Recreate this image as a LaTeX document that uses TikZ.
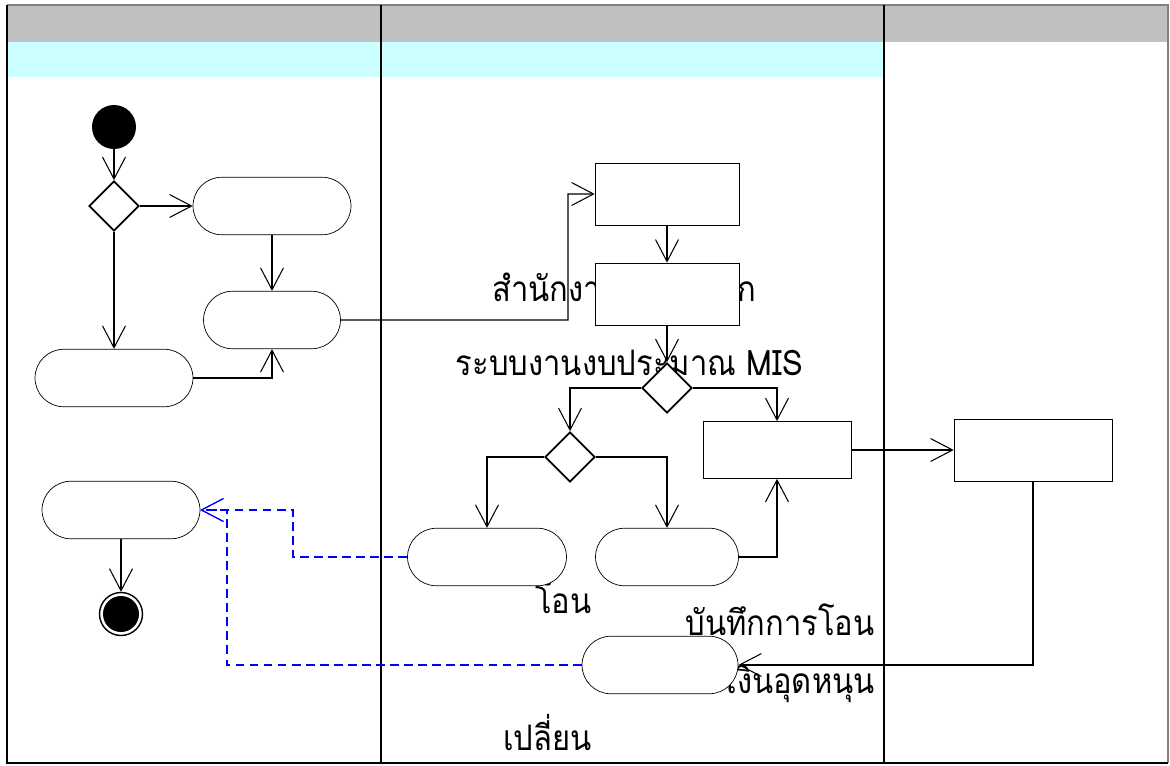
\documentclass[tikz,border=0pt]{standalone}
\usepackage{fontspec}
\newfontfamily\thaifont[Script=Thai, FakeStretch=0.88]{Loma}
\usepackage{xcolor}
\usepackage{tikz}
\usetikzlibrary{shapes.geometric,shapes.misc,arrows.meta}

\definecolor{laneGray}{HTML}{C0C0C0}
\definecolor{laneCyan}{HTML}{CCFFFF}

\begin{document}
\begin{tikzpicture}[x=0.02cm, y=-0.02cm,
  act/.style={rounded rectangle, draw, fill=white, minimum height=1.15cm, inner sep=0pt},
  box/.style={rectangle, draw, fill=white, minimum height=1.24cm, inner sep=0pt},
  choice/.style={diamond, draw, fill=white, line width=1pt, minimum width=1cm, minimum height=1cm, inner sep=0pt},
  startdot/.style={circle, fill=black, minimum size=0.88cm, inner sep=0pt},
  enddot/.style={circle, draw, line width=0.8pt, minimum size=0.86cm, inner sep=0pt,
    path picture={\fill[black] (path picture bounding box.center) circle (0.36cm);}},
  txt/.style={font=\thaifont\fontsize{20}{33}\selectfont, inner sep=0pt},
  arrow/.style={-{Straight Barb[length=0.44cm,width=0.46cm]}, line width=0.6pt},
  flowback/.style={arrow, blue, dash pattern=on 5pt off 3pt}
]
\useasboundingbox (0,0) rectangle (1170,765);

% Swimlanes
\fill[laneGray] (7,5) rectangle (1168,42);
\fill[laneCyan] (7,42) rectangle (884,77);
\draw[gray, line width=0.6pt] (7,5) -- (1168,5) -- (1168,763);
\draw[line width=1.1pt] (7,5) -- (7,763) -- (1168,763);
\draw[line width=1.1pt] (381,5) -- (381,763);
\draw[line width=1.1pt] (884,5) -- (884,763);

% Texts
\node[txt, anchor=base east] (tOffice) at (757,301) {สำนักงานปลัดสำนัก};
\node[txt, anchor=base east] (tSystem) at (803,375) {ระบบงานงบประมาณ MIS};
\node[txt, anchor=base east] (tTransfer) at (592,613) {โอน};
\node[txt, anchor=base east] (tRecord) at (875,635) {บันทึกการโอน};
\node[txt, anchor=base east] (tSubsidy) at (875,693) {เงินอุดหนุน};
\node[txt, anchor=base east] (tChange) at (592,750) {เปลี่ยน};

% Left lane
\node[startdot] (start) at (114,127) {};
\node[choice] (dec1) at (114,206) {};
\node[act, minimum width=3.16cm] (act1) at (272,206) {};
\node[act, minimum width=2.74cm] (act2) at (272,320) {};
\node[act, minimum width=3.16cm] (act3) at (114,378) {};
\node[act, minimum width=3.16cm] (act4) at (121,510) {};
\node[enddot] (stop) at (121,614) {};

% Middle lane
\node[box, minimum width=2.88cm] (box1) at (667,194) {};
\node[box, minimum width=2.88cm] (box2) at (667,294) {};
\node[choice] (dec2) at (667,388) {};
\node[choice] (dec3) at (570,457) {};
\node[box, minimum width=2.96cm, minimum height=1.14cm] (box3) at (777,450) {};
\node[act, minimum width=3.18cm] (act5) at (487,557) {};
\node[act, minimum width=2.86cm] (act6) at (667,557) {};
\node[act, minimum width=3.12cm] (act7) at (660,665) {};

% Right lane
\node[box, minimum width=3.16cm] (box4) at (1033,450) {};

% Bends
\coordinate (j1) at (568,320);
\coordinate (j2) at (293,557);
\coordinate (j3) at (227,665);

% Connections
\draw[arrow] (start) -- (dec1);
\draw[arrow] (dec1) -- (act1);
\draw[arrow] (dec1) -- (act3);
\draw[arrow] (act1) -- (act2);
\draw[arrow] (act3) -| (act2);
\draw[arrow] (act2) -- (j1) |- (box1);
\draw[arrow] (box1) -- (box2);
\draw[arrow] (box2) -- (dec2);
\draw[arrow] (dec2) -| (dec3);
\draw[arrow] (dec2) -| (box3);
\draw[arrow] (dec3) -| (act5);
\draw[arrow] (dec3) -| (act6);
\draw[arrow] (act6) -| (box3);
\draw[arrow] (box3) -- (box4);
\draw[arrow] (box4) |- (act7);
\draw[arrow] (act4) -- (stop);
\draw[flowback] (act5) -- (j2) |- (act4);
\draw[flowback] (act7) -- (j3) |- (act4);
\end{tikzpicture}
\end{document}
